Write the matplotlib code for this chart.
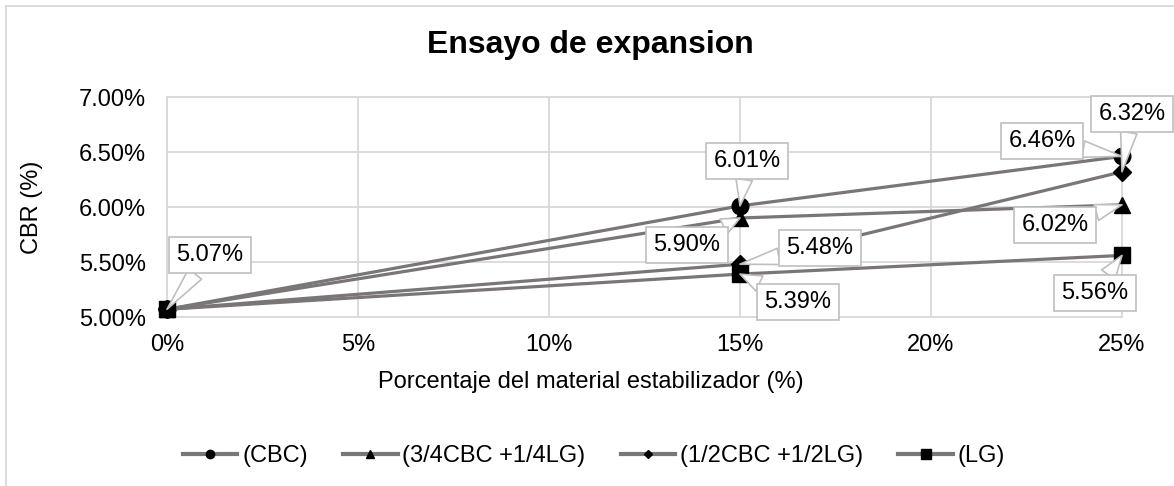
import matplotlib
matplotlib.use("Agg")
import matplotlib.pyplot as plt
from matplotlib.lines import Line2D
from matplotlib.patches import Rectangle
from matplotlib.ticker import FuncFormatter

plt.rcParams['font.family'] = ['Liberation Sans', 'DejaVu Sans']

# porcentaje de material estabilizador y CBR medido
x_pct = [0, 15, 25]
cbr_cbc = [5.07, 6.01, 6.46]
cbr_34cbc = [5.07, 5.90, 6.02]
cbr_12cbc = [5.07, 5.48, 6.32]
cbr_lg = [5.07, 5.39, 5.56]

series_names = ['(CBC)', '(3/4CBC +1/4LG)', '(1/2CBC +1/2LG)', '(LG)']
series_vals = [cbr_cbc, cbr_34cbc, cbr_12cbc, cbr_lg]
markers = ['o', '^', 'D', 's']
msizes = [12, 12, 9, 11]

# desplazamiento (pixeles) de cada etiqueta respecto a su punto
label_off = [
    [(43, 54), (7, 45), (-80, 15)],
    [None, (-53, -27), (-67, -20)],
    [None, (80, 16), (10, 58)],
    [None, (58, -28), (-27, -38)],
]

W, H = 1174, 486
line_c = '#7a7676'
grid_c = '#d9d9d9'
fs = 17

fig = plt.figure(figsize=(W / 100, H / 100), dpi=100)
# borde del area del grafico
fig.patches.append(Rectangle((6 / W, -0.1), 1.2, 1.1 - 6 / H, transform=fig.transFigure,
                             fill=False, ec=grid_c, lw=1.3))

ax = fig.add_axes([167 / W, 1 - 317 / H, (1122 - 167) / W, (317 - 97) / H])

for name, vals, m, ms in zip(series_names, series_vals, markers, msizes):
    ax.plot(x_pct, vals, color=line_c, lw=2.3, marker=m, ms=ms,
            mfc='black', mec='black', label=name, zorder=3, clip_on=False)

for vals, offs in zip(series_vals, label_off):
    for xv, yv, off in zip(x_pct, vals, offs):
        if off is None:
            continue
        ax.annotate(f"{yv:.2f}%", xy=(xv, yv), xytext=off, textcoords='offset pixels',
                    ha='center', va='center', fontsize=fs, zorder=5,
                    bbox=dict(boxstyle='square,pad=0.3', fc='white', ec='#bfbfbf', lw=1.2),
                    arrowprops=dict(arrowstyle='wedge,tail_width=0.7,shrink_factor=0.5',
                                    fc='white', ec='#bfbfbf', lw=1.2,
                                    shrinkA=0, shrinkB=0),
                    annotation_clip=False)

ax.set_xlim(0, 25)
ax.set_ylim(5.0, 7.0)
ax.set_xticks(range(0, 26, 5))
ax.set_yticks([5.0, 5.5, 6.0, 6.5, 7.0])
ax.xaxis.set_major_formatter(FuncFormatter(lambda v, p: f"{v:.0f}%"))
ax.yaxis.set_major_formatter(FuncFormatter(lambda v, p: f"{v:.2f}%"))
ax.tick_params(length=0, labelsize=fs)
ax.tick_params(axis='y', pad=15)
ax.tick_params(axis='x', pad=12)
ax.grid(True, color=grid_c, lw=1.3)
ax.set_axisbelow(True)
for s in ax.spines.values():
    s.set_color(grid_c)
    s.set_linewidth(1.3)

fig.text(590 / W, 1 - 45 / H, 'Ensayo de expansion', ha='center', va='center',
         fontsize=23, fontweight='bold')
fig.text(591 / W, 1 - 382 / H, 'Porcentaje del material estabilizador (%)',
         ha='center', va='center', fontsize=fs)
fig.text(32 / W, 1 - 207 / H, 'CBR (%)', rotation=90, ha='center', va='center', fontsize=fs)

leg_ms = [6, 5.5, 4.5, 7]
handles = [Line2D([], [], color=line_c, lw=3, marker=m, ms=s, mfc='black', mec='black')
           for m, s in zip(markers, leg_ms)]
fig.legend(handles, series_names, loc='center', bbox_to_anchor=(594 / W, 1 - 456 / H),
           ncol=4, frameon=False, fontsize=fs, handlelength=2.3, handletextpad=0.2,
           columnspacing=1.5)

fig.savefig('out.png', dpi=100)
